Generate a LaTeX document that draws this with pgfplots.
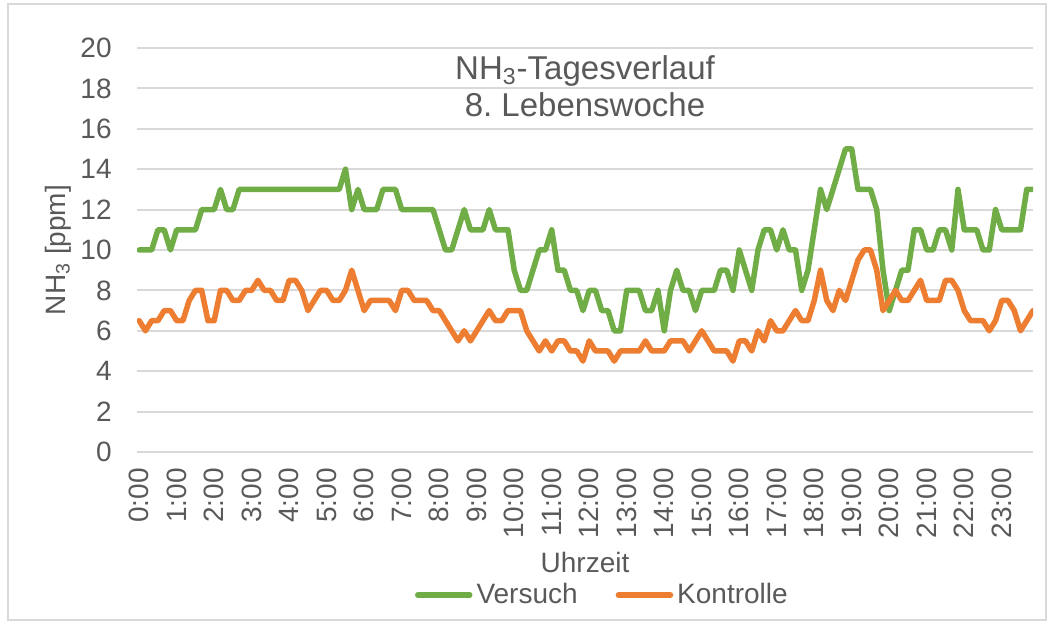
\documentclass[border=0pt]{standalone}
\usepackage{fontspec}
\setmainfont{Liberation Sans}
\usepackage{pgfplots}
\usepackage{pgfplotstable}
\pgfplotsset{compat=1.18}

\definecolor{vgreen}{HTML}{70AD47}
\definecolor{korange}{HTML}{ED7D31}
\definecolor{txtgray}{HTML}{595959}
\definecolor{gridgray}{HTML}{D9D9D9}

% 10-min values, i = index (0 = 0:00, 143 = 23:50)
\pgfplotstableread{
i g o
0 10 6.5
1 10 6
2 10 6.5
3 11 6.5
4 11 7
5 10 7
6 11 6.5
7 11 6.5
8 11 7.5
9 11 8
10 12 8
11 12 6.5
12 12 6.5
13 13 8
14 12 8
15 12 7.5
16 13 7.5
17 13 8
18 13 8
19 13 8.5
20 13 8
21 13 8
22 13 7.5
23 13 7.5
24 13 8.5
25 13 8.5
26 13 8
27 13 7
28 13 7.5
29 13 8
30 13 8
31 13 7.5
32 13 7.5
33 14 8
34 12 9
35 13 8
36 12 7
37 12 7.5
38 12 7.5
39 13 7.5
40 13 7.5
41 13 7
42 12 8
43 12 8
44 12 7.5
45 12 7.5
46 12 7.5
47 12 7
48 11 7
49 10 6.5
50 10 6
51 11 5.5
52 12 6
53 11 5.5
54 11 6
55 11 6.5
56 12 7
57 11 6.5
58 11 6.5
59 11 7
60 9 7
61 8 7
62 8 6
63 9 5.5
64 10 5
65 10 5.5
66 11 5
67 9 5.5
68 9 5.5
69 8 5
70 8 5
71 7 4.5
72 8 5.5
73 8 5
74 7 5
75 7 5
76 6 4.5
77 6 5
78 8 5
79 8 5
80 8 5
81 7 5.5
82 7 5
83 8 5
84 6 5
85 8 5.5
86 9 5.5
87 8 5.5
88 8 5
89 7 5.5
90 8 6
91 8 5.5
92 8 5
93 9 5
94 9 5
95 8 4.5
96 10 5.5
97 9 5.5
98 8 5
99 10 6
100 11 5.5
101 11 6.5
102 10 6
103 11 6
104 10 6.5
105 10 7
106 8 6.5
107 9 6.5
108 11 7.5
109 13 9
110 12 7.5
111 13 7
112 14 8
113 15 7.5
114 15 8.5
115 13 9.5
116 13 10
117 13 10
118 12 9
119 9 7
120 7 7.5
121 8 8
122 9 7.5
123 9 7.5
124 11 8
125 11 8.5
126 10 7.5
127 10 7.5
128 11 7.5
129 11 8.5
130 10 8.5
131 13 8
132 11 7
133 11 6.5
134 11 6.5
135 10 6.5
136 10 6
137 12 6.5
138 11 7.5
139 11 7.5
140 11 7
141 11 6
142 13 6.5
143 13 7
}\nhdata

\begin{document}
\frenchspacing
\begin{tikzpicture}
\useasboundingbox (0pt,0pt) rectangle (527pt,312pt);
\draw[gridgray, line width=1pt] (4pt,2pt) rectangle (523pt,310pt);
\begin{axis}[
  at={(68.5pt,86pt)}, anchor=south west,
  scale only axis, width=448pt, height=202pt,
  xmin=-0.35, xmax=143, ymin=0, ymax=20,
  ytick={0,2,...,20},
  xtick={0,6,...,138},
  xticklabels={0:00,1:00,2:00,3:00,4:00,5:00,6:00,7:00,8:00,9:00,10:00,11:00,
    12:00,13:00,14:00,15:00,16:00,17:00,18:00,19:00,20:00,21:00,22:00,23:00},
  axis line style={draw=none},
  tick style={draw=none},
  ymajorgrids,
  major grid style={gridgray, line width=1pt},
  /pgf/number format/assume math mode=true,
  tick label style={font=\fontsize{14}{16}\selectfont, text=txtgray},
  yticklabel style={anchor=east, inner sep=0pt},
  yticklabel shift=12.5pt,
  xticklabel style={rotate=90, anchor=east, inner sep=0pt},
  xticklabel shift=8pt,
  legend columns=2,
  legend style={at={(0.5205,-0.354)}, anchor=center, draw=none, fill=none,
    font=\fontsize{14}{16}\selectfont, text=txtgray, inner sep=0pt,
    nodes={inner xsep=2pt, inner ysep=1pt},
    /tikz/every even column/.append style={column sep=17pt}},
  legend image code/.code={\draw[#1, line width=2.75pt, line cap=round] (0pt,0pt) -- (26pt,0pt);},
]
\addplot[vgreen, line width=2.75pt, line join=round, line cap=round] table[x=i, y=g] {\nhdata};
\addplot[korange, line width=2.75pt, line join=round, line cap=round] table[x=i, y=o] {\nhdata};
\legend{Versuch, Kontrolle}
\end{axis}
\node[text=txtgray, font=\fontsize{14}{16}\selectfont] at (292.5pt,30.5pt) {Uhrzeit};
\node[text=txtgray, font=\fontsize{14}{16}\selectfont, rotate=90] at (29pt,187pt) {NH\textsubscript{3} [ppm]};
\node[text=txtgray, font=\fontsize{16.5}{18.5}\selectfont, align=center] at (292.5pt,268.75pt)
  {NH\textsubscript{3}-Tagesverlauf\\8. Lebenswoche};
\end{tikzpicture}
\end{document}
